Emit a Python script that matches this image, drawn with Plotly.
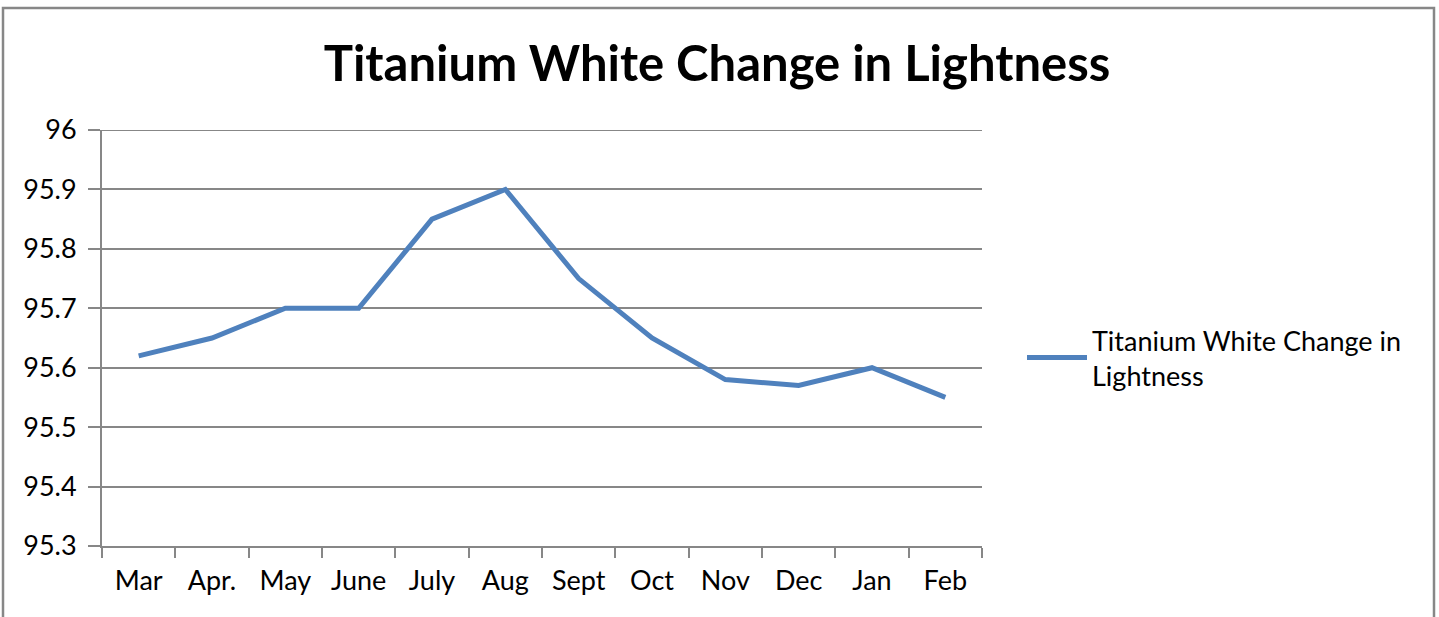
import plotly.graph_objects as go

months = ["Mar", "Apr.", "May", "June", "July", "Aug", "Sept", "Oct", "Nov", "Dec", "Jan", "Feb"]
lightness = [95.62, 95.65, 95.70, 95.70, 95.85, 95.90, 95.75, 95.65, 95.58, 95.57, 95.60, 95.55]
series_name = "Titanium White Change in<br>Lightness"
title_text = "Titanium White Change in Lightness"
y_ticks = [95.3, 95.4, 95.5, 95.6, 95.7, 95.8, 95.9, 96.0]

FONT = "Lato, 'Open Sans', sans-serif"
GRID = "#878787"

fig = go.Figure()
fig.add_trace(go.Scatter(
    x=months, y=lightness, mode="lines", name=series_name,
    line=dict(color="#4F81BD", width=5),
))

L, R, T, B = 102, 457, 130, 71
W, H = 1439, 617
pw, ph = W - L - R, H - T - B

def px_x(p):
    return (p - L) / pw

def px_y(p):
    return (H - B - p) / ph

fig.update_layout(
    width=W, height=H,
    margin=dict(l=L, r=R, t=T, b=B),
    paper_bgcolor="white", plot_bgcolor="white",
    font=dict(family=FONT, size=27, color="black"),
    title=dict(text="<b>" + title_text + "</b>", xref="container", x=717 / W,
               xanchor="center", yref="container", y=1 - 64 / H, yanchor="middle",
               font=dict(family=FONT, size=49, color="black")),
    showlegend=True,
    legend=dict(x=px_x(1022), xanchor="left", y=px_y(358), yanchor="middle",
                font=dict(family=FONT, size=27, color="black"),
                bgcolor="rgba(0,0,0,0)", itemwidth=60, tracegroupgap=0),
    xaxis=dict(
        type="category", tickson="boundaries", ticks="outside", ticklen=10,
        tickwidth=2, tickcolor=GRID, showgrid=False, showline=True,
        linecolor=GRID, linewidth=2, tickfont=dict(family=FONT, size=27),
        range=[-0.5, len(months) - 0.5], fixedrange=True, ticklabelstandoff=10,
    ),
    yaxis=dict(
        range=[95.3, 96.0], tickvals=y_ticks, ticktext=[("%g" % v) for v in y_ticks],
        ticks="outside", ticklen=12, tickwidth=2, tickcolor=GRID,
        showgrid=True, gridcolor=GRID, gridwidth=2, showline=True,
        linecolor=GRID, linewidth=2, zeroline=False,
        tickfont=dict(family=FONT, size=27), ticklabelstandoff=6,
    ),
    shapes=[
        dict(type="rect", xref="paper", yref="paper",
             x0=px_x(3), x1=px_x(1434), y0=px_y(640), y1=px_y(8),
             line=dict(color=GRID, width=2.5), layer="below"),
        dict(type="line", xref="paper", yref="y", x0=0, x1=1,
             y0=y_ticks[-1], y1=y_ticks[-1], line=dict(color=GRID, width=2),
             layer="below"),
    ],
)

fig.write_html("out.html", config={"displayModeBar": False},
               post_script="document.body.style.margin='0';document.body.style.padding='0';")
